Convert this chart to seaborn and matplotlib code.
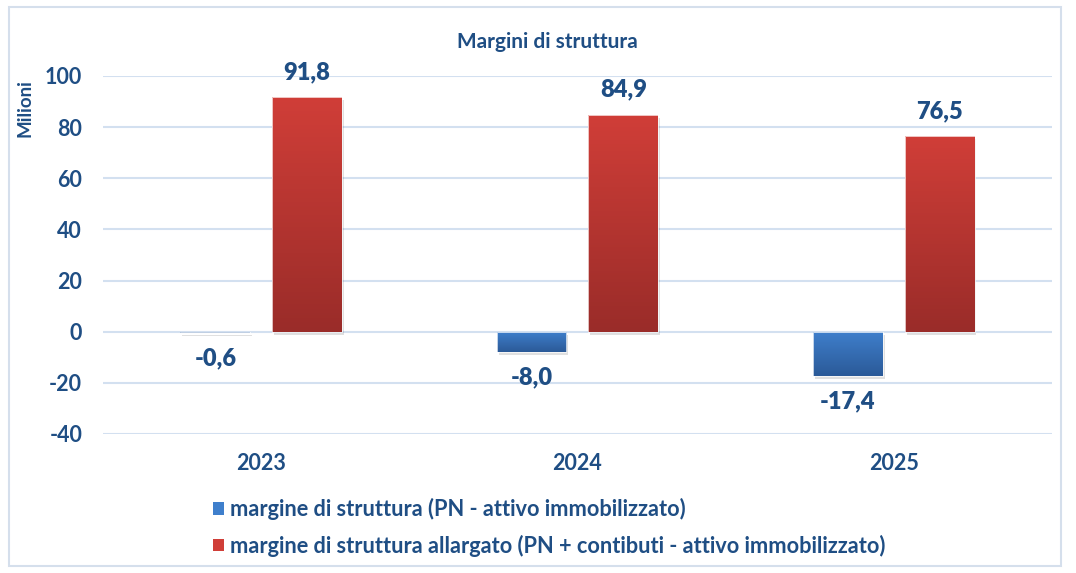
#import libraries
import numpy as np
import pandas as pd
import seaborn as sns
import matplotlib.pyplot as plt
from matplotlib.colors import LinearSegmentedColormap
from matplotlib.patches import Patch, Rectangle

#data
years = ['2023', '2024', '2025']
margine = [-0.6, -8.0, -17.4]
margine_allargato = [91.8, 84.9, 76.5]
series_names = ['margine di struttura (PN - attivo immobilizzato)',
                'margine di struttura allargato (PN + contibuti - attivo immobilizzato)']

df = pd.DataFrame({
    'anno': years * 2,
    'valore': margine + margine_allargato,
    'serie': [series_names[0]] * 3 + [series_names[1]] * 3,
})

navy = '#1f4e84'
grad = {series_names[0]: ('#3f7fcc', '#2b5a98'),
        series_names[1]: ('#d03e38', '#9a2c29')}

sns.set_style('white')
plt.rcParams['font.family'] = ['Lato', 'DejaVu Sans']
plt.rcParams['axes.unicode_minus'] = False

fig = plt.figure(figsize=(10.76, 5.73), dpi=100)
ax = fig.add_axes([0.0957, 0.2426, 0.8820, 0.6248])

sns.barplot(data=df, x='anno', y='valore', hue='serie', hue_order=series_names,
            palette=[grad[s][0] for s in series_names], width=0.58, gap=0.24,
            ax=ax, legend=False)

ax.set_ylim(-40, 100)
ax.set_yticks(range(-40, 101, 20))
ax.set_xlim(-0.5, 2.5)
ax.grid(axis='y', color='#d3e0f0', linewidth=1.5)
ax.set_axisbelow(True)
for s in ax.spines.values():
    s.set_visible(False)
ax.tick_params(axis='y', length=0, labelsize=15.5, labelcolor=navy, pad=15)
ax.tick_params(axis='x', length=0, labelsize=15.5, labelcolor=navy, pad=14)
for lab in ax.get_xticklabels() + ax.get_yticklabels():
    lab.set_fontweight('bold')
ax.set_xlabel('')
ax.set_ylabel('Milioni', fontsize=13.5, fontweight='bold', color=navy)
ax.yaxis.set_label_coords(-0.073, 0.91)

#gradient fill + shadow on each bar
for cont, name in zip(ax.containers, series_names):
    top_c, bot_c = grad[name]
    cmap = LinearSegmentedColormap.from_list(name[:10], [bot_c, top_c])
    for bar in cont:
        x0, y0 = bar.get_x(), bar.get_y()
        w, h = bar.get_width(), bar.get_height()
        lo, hi = min(y0, y0 + h), max(y0, y0 + h)
        ax.add_patch(Rectangle((x0 + 0.006, lo - 1.2), w, hi - lo, facecolor='#000000',
                               alpha=0.12, edgecolor='none', zorder=1.5))
        bar.set_facecolor('none')
        bar.set_edgecolor('#ffffff')
        bar.set_linewidth(0.5)
        bar.set_zorder(3)
        img = ax.imshow(np.linspace(0, 1, 100).reshape(-1, 1), cmap=cmap, origin='lower',
                        extent=[x0, x0 + w, lo, hi], aspect='auto', zorder=2)
        img.set_clip_path(bar)
    labels = [f'{v:.1f}'.replace('.', ',') for v in cont.datavalues]
    txts = ax.bar_label(cont, labels=labels, padding=10, fontsize=17, color=navy)
    for t in txts:
        t.set_fontweight('heavy')

ax.set_xlim(-0.5, 2.5)
ax.set_ylim(-40, 100)

fig.text(0.509, 0.927, 'Margini di struttura', ha='center', va='center',
         fontsize=15, fontweight='bold', color=navy)

handles = [Patch(facecolor=grad[s][0], edgecolor='none') for s in series_names]
leg = fig.legend(handles, series_names, loc='upper left', bbox_to_anchor=(0.19, 0.146),
                 frameon=False, fontsize=15.7, labelcolor=navy, handlelength=0.5,
                 handleheight=0.5, handletextpad=0.25, labelspacing=0.68, borderaxespad=0)
for t in leg.get_texts():
    t.set_fontweight('bold')

#outer frame
fig.add_artist(Rectangle((0.008, 0.012), 0.978, 0.975, transform=fig.transFigure,
                         fill=False, edgecolor='#d5dfec', linewidth=1.5))

plt.savefig('out.png', dpi=100)
